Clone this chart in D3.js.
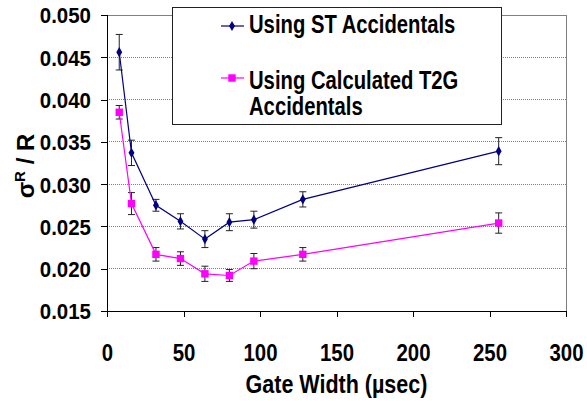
<!DOCTYPE html>
<html><head><meta charset="utf-8">
<script src="https://cdn.jsdelivr.net/npm/d3@7"></script>
<style>body{margin:0;background:#fff}svg{display:block}text{font-family:Arial,"Liberation Sans",sans-serif;font-weight:bold;fill:#000}</style>
</head><body>
<script>
const gateWidths = [8, 16, 32, 48, 64, 80, 96, 128, 256];
const stValues  = [0.0456, 0.0337, 0.0275, 0.0256, 0.0235, 0.0255, 0.0258, 0.0282, 0.0339];
const stErrors  = [0.0021, 0.0015, 0.0007, 0.0009, 0.0010, 0.0010, 0.0010, 0.0009, 0.0016];
const t2gValues = [0.0385, 0.0277, 0.0217, 0.0212, 0.0194, 0.0192, 0.0209, 0.0217, 0.0254];
const t2gErrors = [0.0008, 0.0013, 0.0008, 0.0008, 0.0009, 0.0007, 0.0009, 0.0008, 0.0012];
const xTicks = [0, 50, 100, 150, 200, 250, 300];
const yTicks = [0.015, 0.020, 0.025, 0.030, 0.035, 0.040, 0.045, 0.050];
const seriesNames = ["Using ST Accidentals", ["Using Calculated T2G", "Accidentals"]];

const W = 587, H = 401;
const svg = d3.select("body").append("svg").attr("width", W).attr("height", H);
const x = d3.scaleLinear().domain([0, 300]).range([107, 566]);
const y = d3.scaleLinear().domain([0.015, 0.050]).range([311, 15]);

function squeeze(sel, f) {
  sel.each(function () {
    const len = this.getComputedTextLength();
    d3.select(this).attr("textLength", len * f).attr("lengthAdjust", "spacingAndGlyphs");
  });
}

// gridlines
svg.append("g").selectAll("line").data(yTicks.filter(v => v > 0.015 && v < 0.050)).join("line")
  .attr("x1", x(0)).attr("x2", x(300)).attr("y1", d => y(d)).attr("y2", d => y(d))
  .attr("stroke", "#808080").attr("stroke-width", 1).attr("stroke-dasharray", "1,1").attr("shape-rendering", "crispEdges");
// top and right border
svg.append("path").attr("d", `M${x(0)},${y(0.050)}H${x(300)}V${y(0.015)}`)
  .attr("fill", "none").attr("stroke", "#808080").attr("shape-rendering", "crispEdges");

// axes
const yAxis = d3.axisLeft(y).tickValues(yTicks).tickSize(6).tickFormat(d3.format(".3f"));
const gy = svg.append("g").attr("transform", `translate(${x(0)},0)`).call(yAxis);
const xAxis = d3.axisBottom(x).tickValues(xTicks).tickSize(6).tickFormat(d3.format("d"));
const gx = svg.append("g").attr("transform", `translate(0,${y(0.015)})`).call(xAxis);
[gx, gy].forEach(g => {
  g.selectAll("path,line").attr("stroke", "#000").attr("shape-rendering", "crispEdges");
});
gy.select("path.domain").attr("d", `M0,${y(0.050)}V${y(0.015)}`);
gx.select("path.domain").attr("d", `M${x(0)},0H${x(300)}`);
gy.selectAll("text").attr("font-size", 22).attr("font-family", "Arial, 'Liberation Sans', sans-serif")
  .attr("font-weight", "bold").attr("x", -16).attr("dy", "0.36em");
squeeze(gy.selectAll("text"), 0.93);
gx.selectAll("text").attr("font-size", 24).attr("font-family", "Arial, 'Liberation Sans', sans-serif")
  .attr("font-weight", "bold").attr("y", 50).attr("dy", 0);
squeeze(gx.selectAll("text"), 0.85);

// titles
const xt = svg.append("text").attr("x", (x(0) + x(300)) / 2).attr("y", 393).attr("text-anchor", "middle")
  .attr("font-size", 25).text("Gate Width (\u00b5sec)");
squeeze(xt, 0.86);
const yl = svg.append("text").attr("transform", "translate(34,166) rotate(-90)")
  .attr("text-anchor", "middle").attr("font-size", 24);
yl.append("tspan").text("\u03c3");
yl.append("tspan").attr("font-size", 15).attr("dy", -9).text("R");
yl.append("tspan").attr("dy", 9).text(" / R");

function drawSeries(vals, errs, color, shape, size) {
  const data = gateWidths.map((g, i) => ({g, v: vals[i], e: errs[i]}));
  const eb = svg.append("g").attr("stroke", "#222").attr("stroke-width", 1);
  data.forEach(d => {
    eb.append("line").attr("x1", x(d.g)).attr("x2", x(d.g)).attr("y1", y(d.v + d.e)).attr("y2", y(d.v - d.e));
    [d.v + d.e, d.v - d.e].forEach(v => eb.append("line").attr("x1", x(d.g) - 3.5).attr("x2", x(d.g) + 3.5)
      .attr("y1", y(v)).attr("y2", y(v)));
  });
  svg.append("path").datum(data).attr("fill", "none").attr("stroke", color).attr("stroke-width", 1.2)
    .attr("d", d3.line().x(d => x(d.g)).y(d => y(d.v)));
  svg.append("g").selectAll("path").data(data).join("path")
    .attr("transform", d => `translate(${x(d.g)},${y(d.v)})`)
    .attr("d", d3.symbol().type(shape).size(size)).attr("fill", color);
}
drawSeries(stValues, stErrors, "#000080", d3.symbolDiamond, 30);
drawSeries(t2gValues, t2gErrors, "#ff00ff", d3.symbolSquare, 55);

// legend
const lg = svg.append("g");
lg.append("rect").attr("x", 172.5).attr("y", 7.5).attr("width", 329).attr("height", 117)
  .attr("fill", "#fff").attr("stroke", "#222").attr("stroke-width", 1);
const legendItems = [
  {name: seriesNames[0], color: "#000080", shape: d3.symbolDiamond, size: 30, my: 26, lines: [33]},
  {name: seriesNames[1], color: "#ff00ff", shape: d3.symbolSquare, size: 55, my: 78, lines: [89, 115]}
];
legendItems.forEach(it => {
  lg.append("line").attr("x1", 221).attr("x2", 244).attr("y1", it.my).attr("y2", it.my)
    .attr("stroke", it.color).attr("stroke-width", 1.2);
  lg.append("path").attr("transform", `translate(232,${it.my})`)
    .attr("d", d3.symbol().type(it.shape).size(it.size)).attr("fill", it.color);
  const names = Array.isArray(it.name) ? it.name : [it.name];
  names.forEach((n, i) => {
    const t = lg.append("text").attr("x", 249).attr("y", it.lines[i]).attr("font-size", 25).text(n);
    squeeze(t, 0.81);
  });
});
</script>
</body></html>
